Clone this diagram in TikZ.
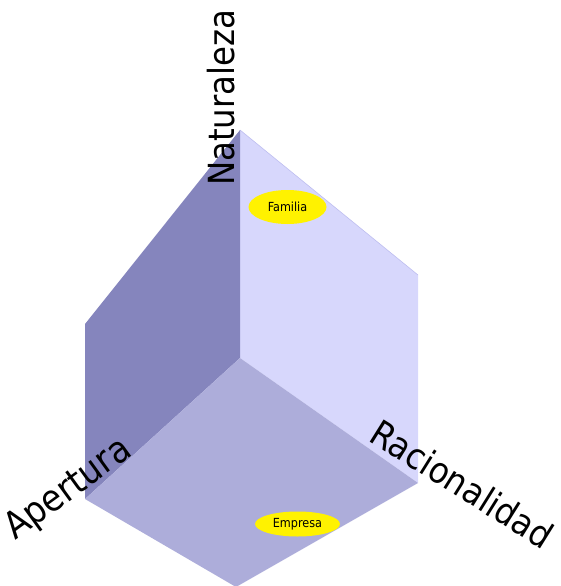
\documentclass[tikz,border=0pt]{standalone}
\usepackage{fontspec}
\setmainfont{DejaVu Sans Condensed}
\usetikzlibrary{shapes.geometric}
\definecolor{leftface}{RGB}{133,133,189}
\definecolor{bottomface}{RGB}{173,173,218}
\definecolor{rightface}{RGB}{215,215,252}
\definecolor{rightedge}{RGB}{190,190,240}
\begin{document}
\begin{tikzpicture}[x=1pt,y=-1pt,
  axislabel/.style={inner sep=0pt,anchor=base west,font=\fontsize{36}{42}\selectfont},
  tag/.style={ellipse,fill=yellow,inner sep=0pt,font=\fontsize{12.5}{14}\selectfont}]
\useasboundingbox (0,0) rectangle (561,586);
\coordinate (T) at (240,130);
\coordinate (C) at (240,358);
\coordinate (R1) at (418,275);
\coordinate (R2) at (418,483);
\coordinate (L1) at (85,324);
\coordinate (L2) at (85,499);
\coordinate (B) at (236,587);
\fill[rightface] (T) -- (R1) -- (R2) -- (C) -- cycle;
\draw[rightedge,line width=0.6pt] (T) -- (R1);
\fill[leftface] (T) -- (L1) -- (L2) -- (C) -- cycle;
\fill[bottomface] (C) -- (R2) -- (B) -- (L2) -- cycle;
\node[tag,minimum width=78pt,minimum height=34pt] (fam) at (287.5,207) {Familia};
\node[tag,minimum width=85pt,minimum height=25pt] (emp) at (297.5,524) {Empresa};
\node[axislabel,rotate=90] (nat) at (234,186) {Naturaleza};
\node[axislabel,rotate=36,font=\fontsize{37}{42}\selectfont] (ape) at (15,541) {Apertura};
\node[axislabel,rotate=-32] (rac) at (367,440) {Racionalidad};
\end{tikzpicture}
\end{document}
